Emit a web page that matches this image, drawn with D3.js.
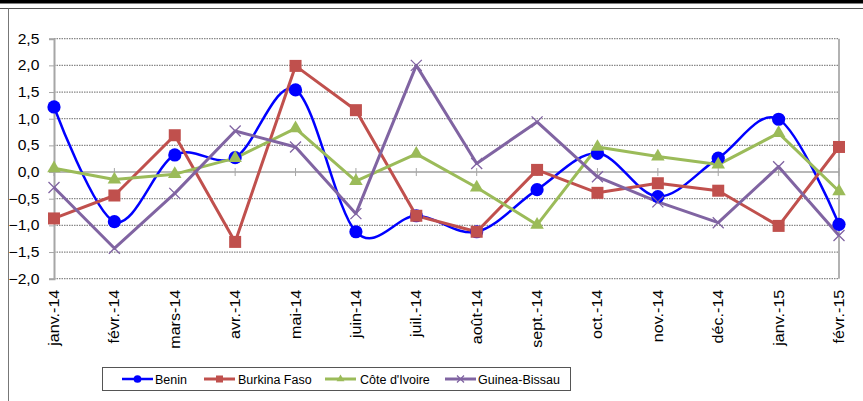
<!DOCTYPE html>
<html>
<head>
<meta charset="utf-8">
<script src="https://cdn.jsdelivr.net/npm/d3@7"></script>
<style>
  body { margin: 0; background: #fff; }
  text { font-family: "Liberation Sans", Arial, sans-serif; fill: #000; }
</style>
</head>
<body>
<div id="chart"></div>
<script>
// Data
var months = ["janv.-14", "févr.-14", "mars-14", "avr.-14", "mai-14", "juin-14", "juil.-14",
  "août-14", "sept.-14", "oct.-14", "nov.-14", "déc.-14", "janv.-15", "févr.-15"];
var benin = [1.22, -0.93, 0.32, 0.27, 1.54, -1.12, -0.82, -1.12, -0.33, 0.35, -0.46, 0.26, 0.99, -0.98];
var burkina = [-0.87, -0.44, 0.69, -1.31, 1.99, 1.16, -0.82, -1.12, 0.04, -0.39, -0.21, -0.35, -1.01, 0.47];
var coteIvoire = [0.07, -0.14, -0.04, 0.26, 0.82, -0.17, 0.34, -0.29, -0.99, 0.47, 0.29, 0.14, 0.73, -0.36];
var guinea = [-0.29, -1.43, -0.40, 0.77, 0.47, -0.78, 2.0, 0.16, 0.94, -0.09, -0.56, -0.95, 0.10, -1.19];
var yTicks = [-2.0, -1.5, -1.0, -0.5, 0.0, 0.5, 1.0, 1.5, 2.0, 2.5];

var series = [
  { name: "Benin", values: benin, color: "#0000FF", marker: "circle", smooth: true, width: 2.5 },
  { name: "Burkina Faso", values: burkina, color: "#C0504D", marker: "square", smooth: false, width: 3 },
  { name: "Côte d'Ivoire", values: coteIvoire, color: "#9BBB59", marker: "triangle", smooth: false, width: 3 },
  { name: "Guinea-Bissau", values: guinea, color: "#8064A2", marker: "cross", smooth: false, width: 3 }
];

var W = 863, H = 401;
var margin = { top: 38.7, right: 24, bottom: 122.3, left: 54 };
var width = W - margin.left - margin.right,
  height = H - margin.top - margin.bottom;

var svg = d3.select("#chart").append("svg")
  .attr("width", W)
  .attr("height", H);

// outer frame
svg.append("rect").attr("x", 0).attr("y", 0).attr("width", W).attr("height", 3.5).attr("fill", "#000");
svg.append("line").attr("x1", 0).attr("x2", W).attr("y1", 8.5).attr("y2", 8.5)
  .attr("stroke", "#555").attr("stroke-width", 1);
svg.append("line").attr("x1", 8.5).attr("x2", 8.5).attr("y1", 8.5).attr("y2", H)
  .attr("stroke", "#777").attr("stroke-width", 1);

var g = svg.append("g")
  .attr("transform", "translate(" + margin.left + "," + margin.top + ")");

var x = d3.scalePoint().domain(months).range([0, width]).padding(0);
var y = d3.scaleLinear().domain([-2, 2.5]).range([height, 0]);

// gridlines
g.selectAll("line.grid")
  .data(yTicks)
  .enter().append("line")
  .attr("class", "grid")
  .attr("x1", 0).attr("x2", width)
  .attr("y1", function(d) { return y(d); })
  .attr("y2", function(d) { return y(d); })
  .attr("stroke", function(d) { return d === 0 ? "#A0A0A0" : "#888"; })
  .attr("stroke-width", function(d) { return d === 0 ? 1.5 : 1.2; })
  .attr("stroke-dasharray", function(d) { return d === 0 ? null : "1.5,1"; });

// plot area right border
g.append("line").attr("x1", width).attr("x2", width).attr("y1", 0).attr("y2", height)
  .attr("stroke", "#999").attr("stroke-width", 1.5);

// y axis
var yAxis = d3.axisLeft(y).tickValues(yTicks).tickSize(5).tickPadding(8)
  .tickFormat(function(d) { return d3.format(".1f")(d).replace(".", ","); });
var ya = g.append("g").call(yAxis);
ya.select(".domain").attr("stroke", "#A6A6A6").attr("stroke-width", 2);
ya.selectAll(".tick line").attr("stroke", "#A6A6A6");
ya.selectAll("text").attr("font-size", "14px").attr("fill", "#000")
  .attr("transform", "scale(1.12,1)")
  .style("font-family", "'Liberation Sans', Arial, sans-serif");

// category ticks crossing the zero line
g.selectAll("line.xtick")
  .data(months)
  .enter().append("line")
  .attr("class", "xtick")
  .attr("x1", function(d) { return x(d); }).attr("x2", function(d) { return x(d); })
  .attr("y1", y(0) - 4).attr("y2", y(0) + 4)
  .attr("stroke", "#A6A6A6").attr("stroke-width", 1);

// category labels, rotated, below plot
g.selectAll("text.month")
  .data(months)
  .enter().append("text")
  .attr("class", "month")
  .attr("text-anchor", "end")
  .attr("font-size", "14px")
  .attr("transform", function(d) {
    return "translate(" + (x(d) + 5) + "," + (height + 11) + ") rotate(-90) scale(1.15,1)";
  })
  .text(function(d) { return d; });

// lines
var lineStraight = d3.line()
  .x(function(d, i) { return x(months[i]); })
  .y(function(d) { return y(d); });
var lineSmooth = d3.line()
  .x(function(d, i) { return x(months[i]); })
  .y(function(d) { return y(d); })
  .curve(d3.curveCardinal.tension(0));

function drawMarker(sel, type, color, s) {
  if (type === "circle") {
    sel.append("circle").attr("r", s * 0.55).attr("fill", color);
  } else if (type === "square") {
    sel.append("rect").attr("x", -s / 2).attr("y", -s / 2).attr("width", s).attr("height", s).attr("fill", color);
  } else if (type === "triangle") {
    sel.append("path").attr("d", d3.symbol().type(d3.symbolTriangle).size(s * s * 0.55)).attr("fill", color);
  } else {
    sel.append("path")
      .attr("d", "M" + (-s / 2) + "," + (-s / 2) + "L" + (s / 2) + "," + (s / 2) +
        "M" + (-s / 2) + "," + (s / 2) + "L" + (s / 2) + "," + (-s / 2))
      .attr("stroke", color).attr("stroke-width", 1.3).attr("fill", "none");
  }
}

series.forEach(function(s) {
  g.append("path")
    .datum(s.values)
    .attr("fill", "none")
    .attr("stroke", s.color)
    .attr("stroke-width", s.width)
    .attr("stroke-linejoin", "round")
    .attr("d", s.smooth ? lineSmooth : lineStraight);
});

series.forEach(function(s) {
  var pts = g.selectAll(null)
    .data(s.values)
    .enter().append("g")
    .attr("transform", function(d, i) { return "translate(" + x(months[i]) + "," + y(d) + ")"; });
  drawMarker(pts, s.marker, s.color, s.marker === "cross" ? 11 : 12);
});

// legend
var legendPos = [
  { lx: 122, tx: 155 },
  { lx: 204, tx: 238 },
  { lx: 325, tx: 360 },
  { lx: 445, tx: 478 }
];
svg.append("rect")
  .attr("x", 102.5).attr("y", 367.5).attr("width", 468).attr("height", 23)
  .attr("fill", "#fff").attr("stroke", "#555").attr("stroke-width", 1);

var leg = svg.selectAll("g.legend")
  .data(series)
  .enter().append("g")
  .attr("class", "legend")
  .attr("transform", function(d, i) { return "translate(" + legendPos[i].lx + ",379)"; });
leg.append("line")
  .attr("x1", 0).attr("x2", 31).attr("y1", 0).attr("y2", 0)
  .attr("stroke", function(d) { return d.color; })
  .attr("stroke-width", function(d) { return d.width; });
leg.each(function(d) {
  var m = d3.select(this).append("g").attr("transform", "translate(15.5,0)");
  drawMarker(m, d.marker, d.color, 7);
});
leg.append("text")
  .attr("x", function(d, i) { return legendPos[i].tx - legendPos[i].lx; })
  .attr("y", 4.5)
  .attr("font-size", "12.5px")
  .text(function(d) { return d.name; });
</script>
</body>
</html>
